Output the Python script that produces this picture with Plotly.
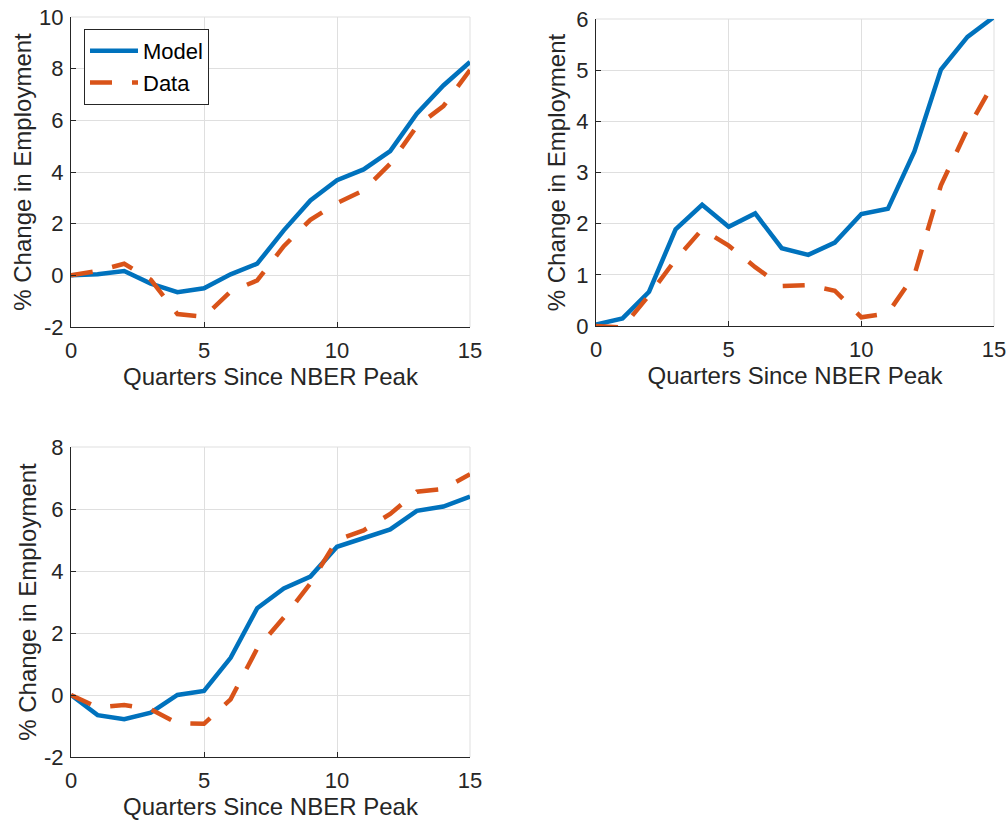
import plotly.graph_objects as go

quarters = list(range(16))

model_1 = [0, 0.04, 0.17, -0.32, -0.65, -0.5, 0.04, 0.45, 1.74, 2.9, 3.68, 4.1, 4.81, 6.26, 7.35, 8.26]
data_1 = [0, 0.17, 0.45, -0.17, -1.5, -1.6, -0.63, -0.2, 1.13, 2.15, 2.8, 3.29, 4.32, 5.77, 6.55, 7.95]

model_2 = [0.03, 0.15, 0.67, 1.89, 2.37, 1.94, 2.2, 1.52, 1.39, 1.63, 2.19, 2.29, 3.41, 5.01, 5.65, 6.04]
data_2 = [0, -0.03, 0.6, 1.3, 1.89, 1.57, 1.15, 0.78, 0.8, 0.69, 0.17, 0.25, 1.0, 2.75, 3.85, 4.76]

model_3 = [0, -0.65, -0.78, -0.57, 0, 0.13, 1.2, 2.8, 3.44, 3.82, 4.78, 5.05, 5.34, 5.94, 6.08, 6.4]
data_3 = [0, -0.4, -0.32, -0.46, -0.91, -0.93, -0.14, 1.5, 2.5, 3.6, 5.0, 5.31, 5.84, 6.56, 6.65, 7.12]

x_ticks = [0, 5, 10, 15]
y_ticks = [[-2, 0, 2, 4, 6, 8, 10], [0, 1, 2, 3, 4, 5, 6], [-2, 0, 2, 4, 6, 8]]
y_ranges = [[-2, 10], [0, 6], [-2, 8]]

x_label = "Quarters Since NBER Peak"
y_label = "% Change in Employment"
series_names = ["Model", "Data"]

BLUE = "#0072BD"
ORANGE = "#D95319"
AX = "#262626"
GRID = "#dfdfdf"
FONT = "Liberation Sans, Arial, sans-serif"

fig = go.Figure()
panels = [(model_1, data_1), (model_2, data_2), (model_3, data_3)]
for i, (m, d) in enumerate(panels):
    xa = "x" if i == 0 else f"x{i+1}"
    ya = "y" if i == 0 else f"y{i+1}"
    fig.add_trace(go.Scatter(x=quarters, y=m, mode="lines", name=series_names[0],
                             line=dict(color=BLUE, width=4.5), xaxis=xa, yaxis=ya,
                             showlegend=(i == 0)))
    fig.add_trace(go.Scatter(x=quarters, y=d, mode="lines", name=series_names[1],
                             line=dict(color=ORANGE, width=4.5, dash="22px,20px"),
                             xaxis=xa, yaxis=ya, showlegend=(i == 0)))

W, H = 1008, 821


def px_x(p):
    return p / W


def px_y(p):
    return 1 - p / H


x_doms = [[px_x(71), px_x(470)], [px_x(596), px_x(994)], [px_x(71), px_x(470)]]
y_doms = [[px_y(327), px_y(17)], [px_y(326), px_y(19)], [px_y(757), px_y(447)]]
y_title_standoff = [0, 3, 0]

layout = dict(
    width=W, height=H,
    margin=dict(l=0, r=0, t=0, b=0),
    paper_bgcolor="white", plot_bgcolor="white",
    font=dict(family=FONT, color=AX),
    showlegend=True,
    legend=dict(x=px_x(84), y=px_y(29), xanchor="left", yanchor="top",
                bgcolor="white", bordercolor=AX, borderwidth=1,
                font=dict(size=22, color="black", family=FONT),
                tracegroupgap=0, itemwidth=48),
)

shapes = []
for i in range(3):
    xk = "xaxis" if i == 0 else f"xaxis{i+1}"
    yk = "yaxis" if i == 0 else f"yaxis{i+1}"
    xa = "x" if i == 0 else f"x{i+1}"
    ya = "y" if i == 0 else f"y{i+1}"
    layout[xk] = dict(
        domain=x_doms[i], anchor=ya, range=[0, 15], tickvals=x_ticks,
        ticktext=[str(v) for v in x_ticks], automargin=False, ticklabeloverflow="allow",
        showgrid=True, gridcolor=GRID, gridwidth=1, zeroline=False,
        showline=True, linecolor=AX, linewidth=1,
        ticks="inside", ticklen=5, tickcolor=AX, ticklabelstandoff=4,
        tickfont=dict(size=22, color=AX, family=FONT),
        title=dict(text=x_label, font=dict(size=24, color=AX, family=FONT), standoff=5),
    )
    layout[yk] = dict(
        domain=y_doms[i], anchor=xa, range=y_ranges[i], tickvals=y_ticks[i],
        ticktext=[str(v) for v in y_ticks[i]], automargin=False, ticklabeloverflow="allow",
        showgrid=True, gridcolor=GRID, gridwidth=1, zeroline=False,
        showline=True, linecolor=AX, linewidth=1,
        ticks="inside", ticklen=5, tickcolor=AX, ticklabelstandoff=2,
        tickfont=dict(size=22, color=AX, family=FONT),
        title=dict(text=y_label, font=dict(size=24, color=AX, family=FONT),
                   standoff=y_title_standoff[i]),
    )
    shapes.append(dict(type="line", xref=f"{xa} domain", yref=f"{ya} domain",
                       x0=0, x1=1, y0=1, y1=1, line=dict(color=GRID, width=1), layer="below"))
    shapes.append(dict(type="line", xref=f"{xa} domain", yref=f"{ya} domain",
                       x0=1, x1=1, y0=0, y1=1, line=dict(color=GRID, width=1), layer="below"))

layout["shapes"] = shapes
fig.update_layout(**layout)
fig.write_html(
    "out.html",
    config={"displayModeBar": False},
    post_script="document.body.style.margin='0';document.body.style.overflow='hidden';",
)
